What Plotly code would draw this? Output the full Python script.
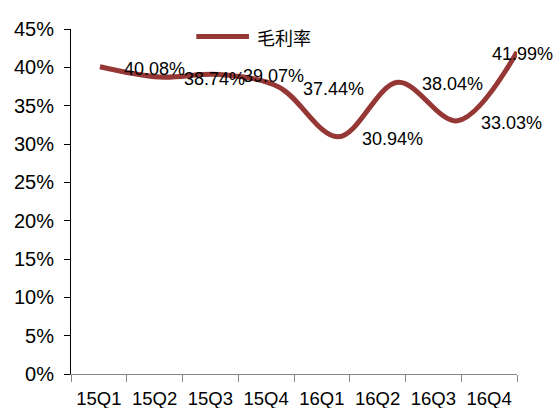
import plotly.graph_objects as go

categories = ["15Q1", "15Q2", "15Q3", "15Q4", "16Q1", "16Q2", "16Q3", "16Q4"]
margin_values = [40.08, 38.74, 39.07, 37.44, 30.94, 38.04, 33.03, 41.99]
series_name = "毛利率"
line_color = "#953735"

idx = list(range(len(categories)))
labels = [f"{v:.2f}%" for v in margin_values]

fig = go.Figure()

# invisible trace on category axis to set up the category ticks
fig.add_trace(go.Scatter(x=categories, y=[None] * len(categories), mode="lines",
                         showlegend=False, hoverinfo="skip", xaxis="x", yaxis="y"))

fig.add_trace(go.Scatter(
    x=idx, y=margin_values, mode="lines", name=series_name,
    line=dict(color=line_color, width=5, shape="spline", smoothing=1.0),
    xaxis="x2", yaxis="y", cliponaxis=False, showlegend=False,
))

for i, (v, t) in enumerate(zip(margin_values, labels)):
    last = i == len(margin_values) - 1
    fig.add_annotation(
        x=i, y=v, xref="x2", yref="y", text=t, showarrow=False,
        xanchor="left" if not last else "center",
        xshift=22 if not last else 5,
        yshift=-2,
        font=dict(family="Liberation Sans, Arial", size=18, color="#000000"),
    )

# legend drawn manually (long line sample like the original)
fig.add_shape(type="line", xref="paper", yref="paper", x0=0.281, x1=0.399, y0=0.978, y1=0.978,
              line=dict(color=line_color, width=5))
fig.add_annotation(x=0.413, y=0.978, xref="paper", yref="paper", text=series_name,
                   showarrow=False, xanchor="left", yanchor="middle",
                   font=dict(family="Noto Sans CJK SC", size=18, color="#000000"))

fig.update_layout(
    width=555, height=408,
    margin=dict(l=71, r=38, t=29, b=34, autoexpand=False),
    paper_bgcolor="white", plot_bgcolor="white",
    xaxis=dict(type="category", categoryorder="array", categoryarray=categories,
               tickson="boundaries", ticks="outside", ticklen=7, tickcolor="#888888",
               showline=True, linecolor="#888888", linewidth=1, showgrid=False,
               zeroline=False, range=[-0.5, 7.5], ticklabelstandoff=8, automargin=False,
               tickfont=dict(family="Liberation Sans, Arial", size=18.5, color="#000000")),
    xaxis2=dict(overlaying="x", range=[-0.4857, 7.0], visible=False),
    yaxis=dict(range=[0, 45], dtick=5, ticksuffix="%", ticks="outside", ticklen=6,
               tickcolor="#000000", showline=True, linecolor="#000000", linewidth=1,
               showgrid=False, zeroline=False, automargin=False, ticklabelstandoff=6,
               tickfont=dict(family="Liberation Sans, Arial", size=20, color="#000000")),
    showlegend=False,
)

fig.write_html("out.html")
